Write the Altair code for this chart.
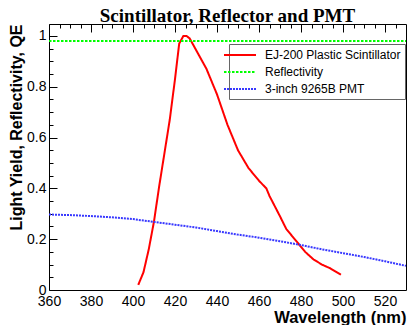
import altair as alt
import pandas as pd

# EJ-200 Plastic Scintillator emission (relative light yield)
scint_wl = [402.5, 405, 407.5, 410, 412.5, 415, 417.5, 420, 422, 424, 425.5, 427,
            429, 431, 435, 440, 445, 450, 455, 460, 463.5, 465, 467.5, 470, 473,
            476, 478, 482, 486, 490, 494, 499]
scint_val = [0.02, 0.07, 0.16, 0.27, 0.41, 0.54, 0.67, 0.83, 0.97, 1.0, 1.0, 0.99,
             0.96, 0.93, 0.87, 0.77, 0.65, 0.55, 0.48, 0.43, 0.40, 0.37, 0.33, 0.29,
             0.24, 0.21, 0.19, 0.15, 0.12, 0.10, 0.085, 0.06]

# Reflectivity
refl_wl = [360, 530]
refl_val = [0.98, 0.98]

# 3-inch 9265B PMT quantum efficiency
pmt_wl = [360, 370, 380, 390, 400, 410, 420, 430, 440, 450, 460, 470, 480, 490,
          500, 510, 520, 530]
pmt_val = [0.297, 0.295, 0.291, 0.286, 0.279, 0.268, 0.257, 0.246, 0.232, 0.218,
           0.206, 0.192, 0.177, 0.160, 0.145, 0.130, 0.113, 0.095]

series = ["EJ-200 Plastic Scintillator", "Reflectivity", "3-inch 9265B PMT"]
colors = ["#ff0000", "#00ff00", "#3838ff"]
dashes = [[1, 0], [2.5, 1.5], [2, 1]]
widths = [2, 2, 1.6]

# tick positions: majors every 20 nm / 0.2, minors every 5 nm / 0.05
x_ticks = list(range(360, 530, 5))
y_ticks = [round(i * 0.05, 2) for i in range(21)]

rows = []
for wl, v in zip(scint_wl, scint_val):
    rows.append({"wl": wl, "val": v, "series": series[0]})
for wl, v in zip(refl_wl, refl_val):
    rows.append({"wl": wl, "val": v, "series": series[1]})
for wl, v in zip(pmt_wl, pmt_val):
    rows.append({"wl": wl, "val": v, "series": series[2]})
df = pd.DataFrame(rows)

FONT = "Liberation Sans"
W, H = 357, 266

xscale = alt.Scale(domain=[360, 530], nice=False, zero=False)
yscale = alt.Scale(domain=[0, 1.047], nice=False, zero=False)

x_major_test = "datum.value % 20 == 0"
y_major_test = "round(datum.value * 100) % 20 == 0"

x_axis = alt.Axis(values=x_ticks, ticks=False, domain=False,
                  grid=True, gridColor="black", gridOpacity=1, gridWidth=1,
                  gridDash={"condition": {"test": x_major_test, "value": [8, 1000]},
                            "value": [4, 1000]},
                  labelExpr=f"{x_major_test} ? datum.label : ''",
                  labelFont=FONT, labelFontSize=14, labelColor="black",
                  labelPadding=4, labelFlush=False, labelOverlap=False,
                  format="d", title="Wavelength (nm)", titleFont=FONT,
                  titleFontSize=16.5, titleFontWeight="bold", titleColor="black",
                  titleAnchor="end", titleAlign="right", titleBaseline="alphabetic",
                  titleX=W, titleY=32, orient="bottom")
y_axis = alt.Axis(values=y_ticks, ticks=False, domain=False,
                  grid=True, gridColor="black", gridOpacity=1, gridWidth=1,
                  gridDash={"condition": {"test": y_major_test, "value": [8, 1000]},
                            "value": [4, 1000]},
                  labelExpr=(f"{y_major_test} ? (datum.value == 1 ? '1' : datum.value == 0 ? '0' : "
                             "format(datum.value, '.1f')) : ''"),
                  labelFont=FONT, labelFontSize=14, labelColor="black",
                  labelPadding=3, labelFlush=False, labelOverlap=False,
                  title="Light Yield, Reflectivity, QE", titleFont=FONT,
                  titleFontSize=16, titleFontWeight="bold", titleColor="black",
                  titleAngle=270, titleAnchor="end", titleAlign="right",
                  titleBaseline="alphabetic",
                  titleX=-28, titleY=0, orient="left")

legend = alt.Legend(orient="none", legendX=180, legendY=20, title=None,
                    symbolType="M-2.667,0H2.667", symbolSize=144, symbolStrokeWidth=2,
                    labelFont=FONT, labelFontSize=12, labelColor="black",
                    labelOffset=18, labelLimit=300, padding=4, rowPadding=4,
                    strokeColor="#666666", fillColor="white", cornerRadius=0)

chart = alt.Chart(df).mark_line(clip=True).encode(
    x=alt.X("wl:Q", scale=xscale, axis=x_axis),
    y=alt.Y("val:Q", scale=yscale, axis=y_axis),
    color=alt.Color("series:N", scale=alt.Scale(domain=series, range=colors), legend=legend),
    strokeDash=alt.StrokeDash("series:N", scale=alt.Scale(domain=series, range=dashes), legend=legend),
    strokeWidth=alt.StrokeWidth("series:N", scale=alt.Scale(domain=series, range=widths), legend=None),
    detail="series:N",
    order="wl:Q",
).properties(
    width=W, height=H,
    autosize=alt.AutoSizeParams(type="none"),
    padding={"left": 41, "top": 16, "right": 1, "bottom": 35},
    title=alt.TitleParams("Scintillator, Reflector and PMT", font="Liberation Serif",
                          fontSize=19, fontWeight="bold", color="black", anchor="middle",
                          frame="group", baseline="alphabetic", offset=-16.5),
).configure_view(stroke="black", strokeWidth=1)

chart.save("out.html", embed_options={"renderer": "svg", "actions": False})
